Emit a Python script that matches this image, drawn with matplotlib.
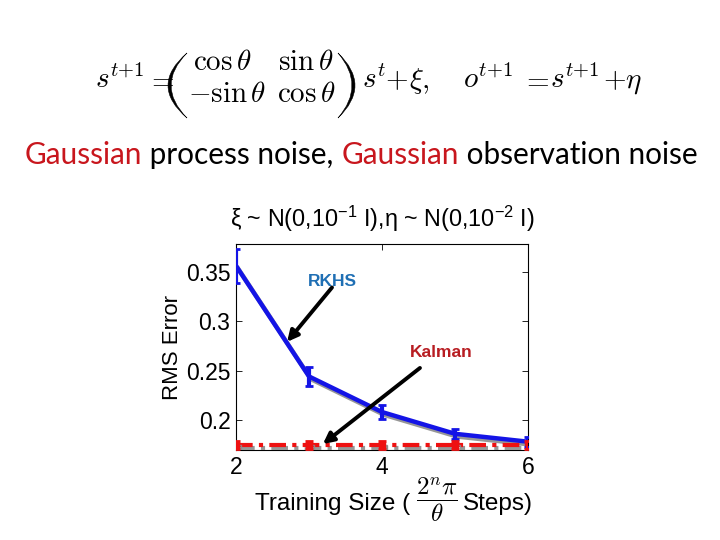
import numpy as np
import matplotlib.pyplot as plt
import matplotlib.patheffects as pe
from matplotlib.path import Path
from matplotlib.patches import PathPatch

# training size (n) and RMS error values
sizes = [2, 3, 4, 5, 6]
rkhs_err = [0.356, 0.244, 0.208, 0.186, 0.178]
rkhs_std = [0.017, 0.010, 0.007, 0.005, 0.005]
kalman_err = [0.1745, 0.1745, 0.1745, 0.1745, 0.1745]
kalman_std = [0.004, 0.004, 0.004, 0.004, 0.004]

W, H = 720, 540
fig = plt.figure(figsize=(7.2, 5.4), dpi=100)
fig.patch.set_facecolor('white')


def px(x, y):
    # pixel position (from top-left) -> figure fraction
    return x / W, 1 - y / H


def eqtext(x, y, s, ha='left'):
    fx, fy = px(x, y)
    return fig.text(fx, fy, s, fontsize=21, math_fontfamily='cm',
                    va='baseline', ha=ha)


# state-space equation at the top, placed piece by piece
eqtext(95, 88, r'$s^{t{+}1}$')
eqtext(146, 88, r'$=$')
eqtext(222, 70, r'$\cos\theta$', ha='center')
eqtext(227, 102, r'$-\sin\theta$', ha='center')
eqtext(306, 70, r'$\sin\theta$', ha='center')
eqtext(306, 102, r'$\cos\theta$', ha='center')
eqtext(362, 88, r'$s^t$')
eqtext(385, 88, r'$+$')
eqtext(409, 88, r'$\xi,$')
eqtext(463, 88, r'$o^{t{+}1}$')
eqtext(521, 88, r'$=$')
eqtext(550, 88, r'$s^{t{+}1}$')
eqtext(603, 88, r'$+$')
eqtext(625, 88, r'$\eta$')


def paren(tip_x, out_mid, in_mid, y0=53, y1=118):
    ym = (y0 + y1) / 2
    c_out = 2 * out_mid - tip_x
    c_in = 2 * in_mid - tip_x
    verts = [px(tip_x, y0), px(c_out, ym), px(tip_x, y1),
             px(c_in, ym), px(tip_x, y0)]
    codes = [Path.MOVETO, Path.CURVE3, Path.CURVE3, Path.CURVE3, Path.CURVE3]
    fig.patches.append(PathPatch(Path(verts, codes), transform=fig.transFigure,
                                 facecolor='black', edgecolor='black', lw=0.4))


paren(187, 168, 171)
paren(338, 355, 352)

# subtitle with coloured words
red = '#c8161d'
parts = [('Gaussian', red), (' process noise, ', 'black'),
         ('Gaussian', red), (' observation noise', 'black')]
fig.canvas.draw()
r = fig.canvas.get_renderer()
x0 = 25 / W
for s, c in parts:
    t = fig.text(x0, 1 - 155 / H, s, color=c, fontsize=21.4, family='Lato',
                 va='center', ha='left')
    x0 += t.get_window_extent(renderer=r).width / W

ax = fig.add_axes([236 / W, 1 - 450 / H, 292 / W, 206 / H])

# grey shadow lines under the curves
sh = [pe.SimpleLineShadow(offset=(1.5, -2), shadow_color='0.55', alpha=0.9), pe.Normal()]
ax.plot(sizes, rkhs_err, color='#1414e6', lw=3.2, path_effects=sh, zorder=3)
ax.errorbar(sizes, rkhs_err, yerr=rkhs_std, fmt='none', ecolor='#1414e6',
            elinewidth=3, capsize=3, capthick=2, zorder=4)
ax.plot(sizes, kalman_err, color='#ee1111', lw=3, ls=(0, (4, 1.5, 1, 1.5)),
        marker='s', ms=4, path_effects=sh, zorder=3)
ax.errorbar(sizes, kalman_err, yerr=kalman_std, fmt='none', ecolor='#ee1111',
            elinewidth=3, capsize=3, capthick=2, zorder=4)

ax.set_xlim(2, 6)
ax.set_ylim(0.1696, 0.378)
ax.set_xticks([2, 4, 6])
ax.set_yticks([0.2, 0.25, 0.3, 0.35])
ax.set_yticklabels(['0.2', '0.25', '0.3', '0.35'])
ax.tick_params(direction='in', top=True, right=True, labelsize=16.5, length=4,
               width=0.6, pad=4)
for lbl in ax.get_xticklabels() + ax.get_yticklabels():
    lbl.set_family('Liberation Sans')
for s in ax.spines.values():
    s.set_linewidth(0.8)

ax.set_title('ξ ~ N(0,10$^{\\mathregular{-1}}$ I),η ~ N(0,10$^{\\mathregular{-2}}$ I)',
             fontsize=16.8, family='Liberation Sans', pad=12)
ax.set_ylabel('RMS Error', fontsize=16, family='Liberation Sans', labelpad=2)

# x label: text + displaystyle fraction + text
fig.text(*px(255, 510), 'Training Size (', fontsize=17.5, family='Liberation Sans',
         ha='left', va='baseline')
fig.text(*px(437, 500), r'$\dfrac{2^n\pi}{\theta}$', fontsize=18,
         math_fontfamily='cm', ha='center', va='center')
fig.text(*px(463, 510), 'Steps)', fontsize=17.5, family='Liberation Sans',
         ha='left', va='baseline')

# labels and arrows
ax.text(3.315, 0.340, 'RKHS', color='#1f6fb4', fontsize=12.5, fontweight='bold',
        family='Liberation Sans', ha='center', va='center')
ax.annotate('', xy=(2.70, 0.279), xytext=(3.315, 0.334),
            arrowprops=dict(arrowstyle='-|>', color='black', lw=2.8,
                            mutation_scale=16, shrinkA=0, shrinkB=0))
ax.text(4.81, 0.268, 'Kalman', color='#b81d22', fontsize=12.5, fontweight='bold',
        family='Liberation Sans', ha='center', va='center')
ax.annotate('', xy=(3.19, 0.1756), xytext=(4.52, 0.2526),
            arrowprops=dict(arrowstyle='-|>', color='black', lw=2.8,
                            mutation_scale=16, shrinkA=0, shrinkB=0))

fig.savefig('out.png', dpi=100, facecolor='white')
